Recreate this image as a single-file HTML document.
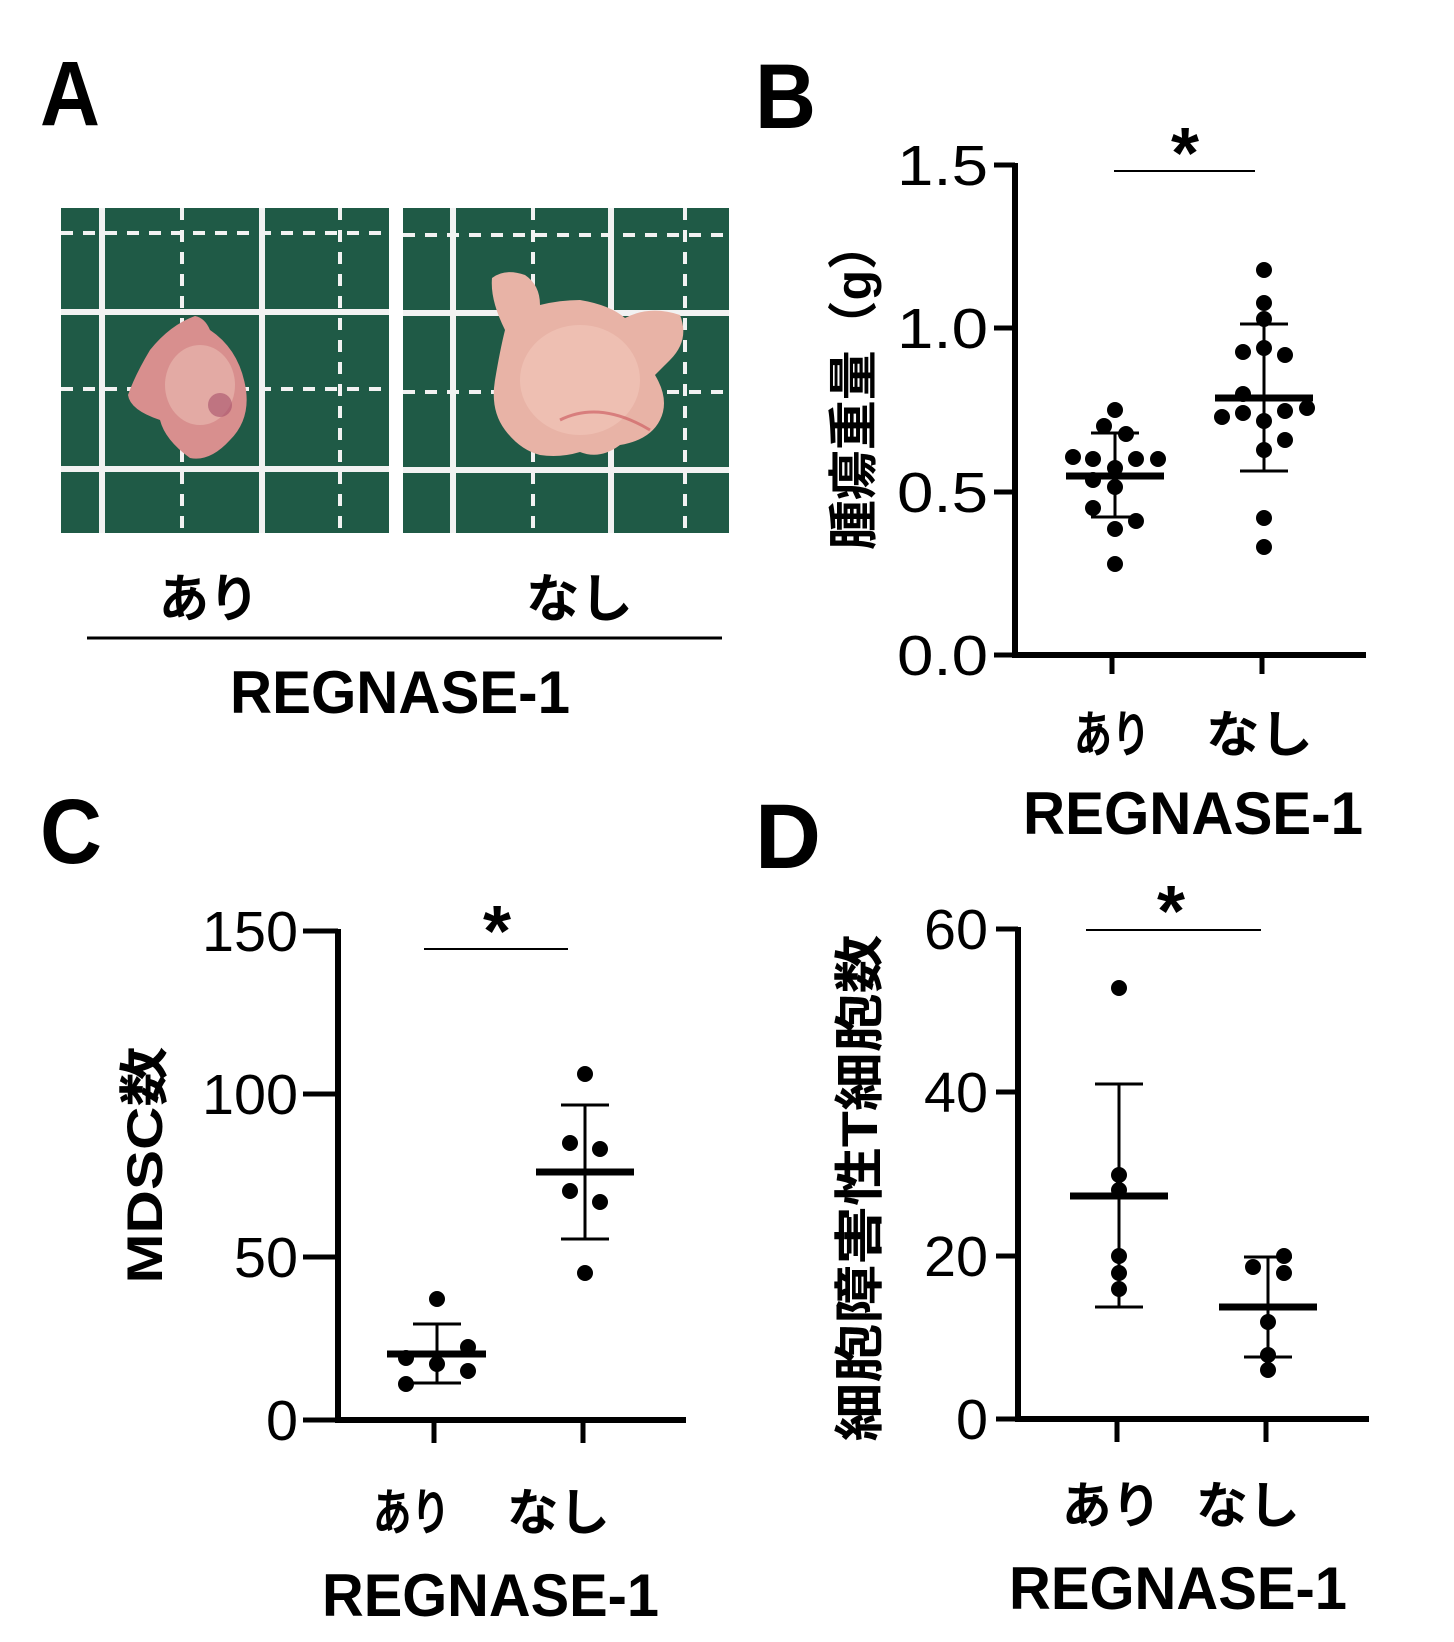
<!DOCTYPE html>
<html><head><meta charset="utf-8"><style>
html,body{margin:0;padding:0;background:#fff;}
svg{display:block;}
text{font-family:"Liberation Sans","Noto Sans CJK JP",sans-serif;fill:#000;}
.b{font-weight:bold;}
</style></head><body>
<svg width="1454" height="1642" viewBox="0 0 1454 1642" xmlns="http://www.w3.org/2000/svg">
<text class="b" x="40" y="125" font-size="92" textLength="60" lengthAdjust="spacingAndGlyphs">A</text>
<text class="b" x="755" y="128" font-size="92" textLength="61" lengthAdjust="spacingAndGlyphs">B</text>
<text class="b" x="40" y="863" font-size="92" textLength="62" lengthAdjust="spacingAndGlyphs">C</text>
<text class="b" x="755" y="868" font-size="92" textLength="66" lengthAdjust="spacingAndGlyphs">D</text>

<g>
<rect x="61" y="208" width="328" height="325" fill="#1f5a46"/>
<g stroke="#f2f2f2" stroke-width="6">
<line x1="102" y1="208" x2="102" y2="533"/><line x1="262" y1="208" x2="262" y2="533"/>
<line x1="61" y1="312" x2="389" y2="312"/><line x1="61" y1="469" x2="389" y2="469"/>
</g>
<g stroke="#f2f2f2" stroke-width="4" stroke-dasharray="12,10">
<line x1="182" y1="208" x2="182" y2="533"/><line x1="340" y1="208" x2="340" y2="533"/>
<line x1="61" y1="233" x2="389" y2="233"/><line x1="61" y1="389" x2="389" y2="389"/>
</g>
<path d="M195 316 Q205 318 210 330 Q240 350 246 390 Q250 420 230 440 Q210 462 190 458 Q165 440 160 420 Q130 410 128 395 Q135 375 150 350 Q170 325 195 316Z" fill="#d88f8e"/>
<ellipse cx="200" cy="385" rx="35" ry="40" fill="#e3aaa4"/>
<ellipse cx="220" cy="405" rx="12" ry="12" fill="#a7506a" opacity="0.6"/>

<rect x="403" y="208" width="326" height="325" fill="#1f5a46"/>
<g stroke="#f2f2f2" stroke-width="6">
<line x1="453" y1="208" x2="453" y2="533"/><line x1="611" y1="208" x2="611" y2="533"/>
<line x1="403" y1="313" x2="729" y2="313"/><line x1="403" y1="470" x2="729" y2="470"/>
</g>
<g stroke="#f2f2f2" stroke-width="4" stroke-dasharray="12,10">
<line x1="533" y1="208" x2="533" y2="533"/><line x1="685" y1="208" x2="685" y2="533"/>
<line x1="403" y1="235" x2="729" y2="235"/><line x1="403" y1="392" x2="729" y2="392"/>
</g>
<path d="M492 278 Q505 268 525 275 Q540 285 540 305 Q560 300 580 300 Q610 305 625 318 Q650 305 680 315 Q690 340 670 360 Q660 370 655 375 Q670 400 660 420 Q650 440 620 445 Q600 460 580 452 Q560 458 540 455 Q520 450 505 430 Q490 410 495 380 Q500 350 505 330 Q490 300 492 278Z" fill="#e8b3a6"/>
<ellipse cx="580" cy="380" rx="60" ry="55" fill="#eebfb2"/>
<path d="M560 420 Q600 400 650 430" stroke="#c9545a" stroke-width="3" fill="none" opacity="0.6"/>
</g>
<text class="b" x="159" y="617" font-size="52" textLength="100" lengthAdjust="spacingAndGlyphs">あり</text>
<text class="b" x="526" y="617" font-size="52" textLength="107" lengthAdjust="spacingAndGlyphs">なし</text>
<line x1="87" y1="638" x2="722" y2="638" stroke="#000" stroke-width="3"/>
<text class="b" x="230" y="713" font-size="60" textLength="340" lengthAdjust="spacingAndGlyphs">REGNASE-1</text>

<g stroke="#000" fill="none">
<polyline points="1015,163 1015,655 1366,655" stroke-width="6"/>
<g stroke-width="5">
<line x1="994" y1="165" x2="1015" y2="165"/><line x1="994" y1="328" x2="1015" y2="328"/>
<line x1="994" y1="492" x2="1015" y2="492"/><line x1="994" y1="655" x2="1015" y2="655"/>
<line x1="1112" y1="655" x2="1112" y2="674"/><line x1="1262" y1="655" x2="1262" y2="674"/>
</g>
<line x1="1114" y1="171" x2="1255" y2="171" stroke-width="2"/>
</g>
<g font-size="57" text-anchor="end">
<text x="988" y="185" textLength="91" lengthAdjust="spacingAndGlyphs">1.5</text>
<text x="988" y="348" textLength="91" lengthAdjust="spacingAndGlyphs">1.0</text>
<text x="988" y="512" textLength="91" lengthAdjust="spacingAndGlyphs">0.5</text>
<text x="988" y="675" textLength="91" lengthAdjust="spacingAndGlyphs">0.0</text>
</g>
<text class="b" x="1185" y="178" font-size="72" text-anchor="middle">*</text>
<text class="b" transform="translate(871,385) rotate(-90)" x="0" y="0" font-size="50" text-anchor="middle" textLength="330" lengthAdjust="spacingAndGlyphs">腫瘍重量（g）</text>
<g fill="#000">
<circle cx="1115" cy="410" r="8"/><circle cx="1104" cy="426" r="8"/><circle cx="1126" cy="434" r="8"/>
<circle cx="1073" cy="457" r="8"/><circle cx="1093" cy="459" r="8"/><circle cx="1136" cy="459" r="8"/><circle cx="1158" cy="459" r="8"/>
<circle cx="1115" cy="468" r="8"/><circle cx="1093" cy="480" r="8"/><circle cx="1115" cy="487" r="8"/>
<circle cx="1093" cy="508" r="8"/><circle cx="1136" cy="521" r="8"/><circle cx="1115" cy="529" r="8"/><circle cx="1115" cy="564" r="8"/>
<circle cx="1264" cy="270" r="8"/><circle cx="1264" cy="303" r="8"/><circle cx="1264" cy="319" r="8"/>
<circle cx="1243" cy="352" r="8"/><circle cx="1264" cy="348" r="8"/><circle cx="1285" cy="355" r="8"/>
<circle cx="1243" cy="394" r="8"/><circle cx="1222" cy="417" r="8"/><circle cx="1243" cy="413" r="8"/><circle cx="1264" cy="421" r="8"/>
<circle cx="1285" cy="411" r="8"/><circle cx="1307" cy="408" r="8"/><circle cx="1285" cy="440" r="8"/><circle cx="1264" cy="450" r="8"/>
<circle cx="1264" cy="518" r="8"/><circle cx="1264" cy="547" r="8"/>
</g>
<g stroke="#000">
<line x1="1115" y1="433" x2="1115" y2="517" stroke-width="3"/>
<line x1="1091" y1="433" x2="1139" y2="433" stroke-width="3"/><line x1="1091" y1="517" x2="1139" y2="517" stroke-width="3"/>
<line x1="1066" y1="476" x2="1164" y2="476" stroke-width="7"/>
<line x1="1264" y1="324" x2="1264" y2="471" stroke-width="3"/>
<line x1="1240" y1="324" x2="1288" y2="324" stroke-width="3"/><line x1="1240" y1="471" x2="1288" y2="471" stroke-width="3"/>
<line x1="1215" y1="398" x2="1313" y2="398" stroke-width="7"/>
</g>
<text class="b" x="1074" y="752" font-size="50" textLength="76" lengthAdjust="spacingAndGlyphs">あり</text>
<text class="b" x="1206" y="752" font-size="50" textLength="107" lengthAdjust="spacingAndGlyphs">なし</text>
<text class="b" x="1023" y="834" font-size="60" textLength="340" lengthAdjust="spacingAndGlyphs">REGNASE-1</text>

<g stroke="#000" fill="none">
<polyline points="338,929 338,1420 686,1420" stroke-width="6"/>
<g stroke-width="5">
<line x1="303" y1="931" x2="338" y2="931"/><line x1="303" y1="1094" x2="338" y2="1094"/>
<line x1="303" y1="1257" x2="338" y2="1257"/><line x1="303" y1="1420" x2="338" y2="1420"/>
<line x1="434" y1="1420" x2="434" y2="1443"/><line x1="583" y1="1420" x2="583" y2="1443"/>
</g>
<line x1="424" y1="949" x2="568" y2="949" stroke-width="2"/>
</g>
<g font-size="57" text-anchor="end">
<text x="298" y="951" textLength="96" lengthAdjust="spacingAndGlyphs">150</text>
<text x="298" y="1114" textLength="96" lengthAdjust="spacingAndGlyphs">100</text>
<text x="298" y="1277" textLength="64" lengthAdjust="spacingAndGlyphs">50</text>
<text x="298" y="1440" textLength="32" lengthAdjust="spacingAndGlyphs">0</text>
</g>
<text class="b" x="497" y="956" font-size="72" text-anchor="middle">*</text>
<text class="b" transform="translate(162,1165) rotate(-90)" x="0" y="0" font-size="50" text-anchor="middle" textLength="237" lengthAdjust="spacingAndGlyphs">MDSC数</text>
<g fill="#000">
<circle cx="585" cy="1074" r="8"/><circle cx="570" cy="1143" r="8"/><circle cx="600" cy="1149" r="8"/>
<circle cx="570" cy="1191" r="8"/><circle cx="600" cy="1202" r="8"/><circle cx="585" cy="1273" r="8"/>
<circle cx="437" cy="1299" r="8"/><circle cx="468" cy="1347" r="8"/><circle cx="406" cy="1358" r="8"/>
<circle cx="437" cy="1364" r="8"/><circle cx="468" cy="1371" r="8"/><circle cx="406" cy="1384" r="8"/>
</g>
<g stroke="#000">
<line x1="585" y1="1105" x2="585" y2="1239" stroke-width="3"/>
<line x1="561" y1="1105" x2="609" y2="1105" stroke-width="3"/><line x1="561" y1="1239" x2="609" y2="1239" stroke-width="3"/>
<line x1="536" y1="1172" x2="634" y2="1172" stroke-width="7"/>
<line x1="437" y1="1324" x2="437" y2="1383" stroke-width="3"/>
<line x1="413" y1="1324" x2="461" y2="1324" stroke-width="3"/><line x1="413" y1="1383" x2="461" y2="1383" stroke-width="3"/>
<line x1="387" y1="1354" x2="486" y2="1354" stroke-width="7"/>
</g>
<text class="b" x="373" y="1530" font-size="50" textLength="77" lengthAdjust="spacingAndGlyphs">あり</text>
<text class="b" x="507" y="1530" font-size="50" textLength="103" lengthAdjust="spacingAndGlyphs">なし</text>
<text class="b" x="322" y="1616" font-size="60" textLength="337" lengthAdjust="spacingAndGlyphs">REGNASE-1</text>

<g stroke="#000" fill="none">
<polyline points="1018,927 1018,1419 1369,1419" stroke-width="6"/>
<g stroke-width="5">
<line x1="996" y1="929" x2="1018" y2="929"/><line x1="996" y1="1092" x2="1018" y2="1092"/>
<line x1="996" y1="1256" x2="1018" y2="1256"/><line x1="996" y1="1419" x2="1018" y2="1419"/>
<line x1="1117" y1="1419" x2="1117" y2="1442"/><line x1="1266" y1="1419" x2="1266" y2="1442"/>
</g>
<line x1="1086" y1="930" x2="1261" y2="930" stroke-width="2"/>
</g>
<g font-size="57" text-anchor="end">
<text x="988" y="949" textLength="64" lengthAdjust="spacingAndGlyphs">60</text>
<text x="988" y="1112" textLength="64" lengthAdjust="spacingAndGlyphs">40</text>
<text x="988" y="1276" textLength="64" lengthAdjust="spacingAndGlyphs">20</text>
<text x="988" y="1439" textLength="32" lengthAdjust="spacingAndGlyphs">0</text>
</g>
<text class="b" x="1171" y="936" font-size="72" text-anchor="middle">*</text>
<text class="b" transform="translate(877,1188) rotate(-90)" x="0" y="0" font-size="50" text-anchor="middle" textLength="507" lengthAdjust="spacingAndGlyphs">細胞障害性T細胞数</text>
<g fill="#000">
<circle cx="1119" cy="988" r="8"/><circle cx="1119" cy="1175" r="8"/><circle cx="1119" cy="1190" r="8"/>
<circle cx="1119" cy="1256" r="8"/><circle cx="1119" cy="1273" r="8"/><circle cx="1119" cy="1289" r="8"/>
<circle cx="1284" cy="1256" r="8"/><circle cx="1253" cy="1267" r="8"/><circle cx="1284" cy="1273" r="8"/>
<circle cx="1268" cy="1322" r="8"/><circle cx="1268" cy="1355" r="8"/><circle cx="1268" cy="1370" r="8"/>
</g>
<g stroke="#000">
<line x1="1119" y1="1084" x2="1119" y2="1307" stroke-width="3"/>
<line x1="1095" y1="1084" x2="1143" y2="1084" stroke-width="3"/><line x1="1095" y1="1307" x2="1143" y2="1307" stroke-width="3"/>
<line x1="1070" y1="1196" x2="1168" y2="1196" stroke-width="7"/>
<line x1="1268" y1="1257" x2="1268" y2="1357" stroke-width="3"/>
<line x1="1244" y1="1257" x2="1292" y2="1257" stroke-width="3"/><line x1="1244" y1="1357" x2="1292" y2="1357" stroke-width="3"/>
<line x1="1219" y1="1307" x2="1317" y2="1307" stroke-width="7"/>
</g>
<text class="b" x="1062" y="1523" font-size="50" textLength="99" lengthAdjust="spacingAndGlyphs">あり</text>
<text class="b" x="1196" y="1523" font-size="50" textLength="104" lengthAdjust="spacingAndGlyphs">なし</text>
<text class="b" x="1009" y="1609" font-size="60" textLength="338" lengthAdjust="spacingAndGlyphs">REGNASE-1</text>
</svg>
</body></html>
